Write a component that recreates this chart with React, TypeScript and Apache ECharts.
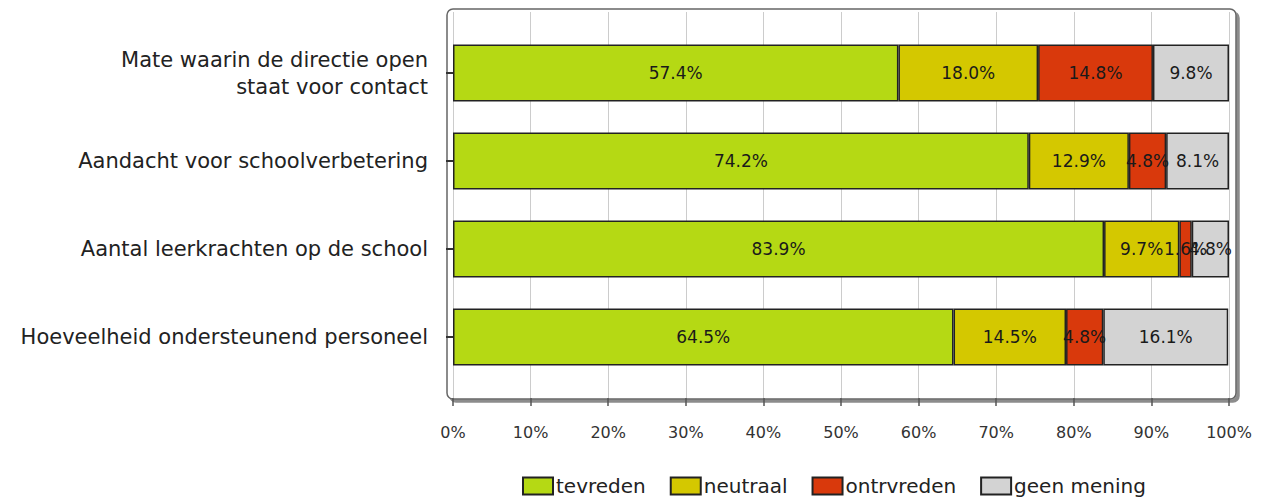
import React, { useEffect, useRef } from "react";
import * as echarts from "echarts";

const categories = [
  "Mate waarin de directie open\nstaat voor contact",
  "Aandacht voor schoolverbetering",
  "Aantal leerkrachten op de school",
  "Hoeveelheid ondersteunend personeel",
];
const seriesNames = ["tevreden", "neutraal", "ontrvreden", "geen mening"];
const tevreden = [57.4, 74.2, 83.9, 64.5];
const neutraal = [18.0, 12.9, 9.7, 14.5];
const ontrvreden = [14.8, 4.8, 1.6, 4.8];
const geenMening = [9.8, 8.1, 4.8, 16.1];
const colors = ["#b5d914", "#d4c800", "#d9390c", "#d3d3d3"];

const FONT = "DejaVu Sans";

export default function App() {
  const ref = useRef<HTMLDivElement>(null);
  useEffect(() => {
    if (!ref.current) return;
    const chart = echarts.init(ref.current, undefined, { renderer: "svg" });
    const values = [tevreden, neutraal, ontrvreden, geenMening];
    chart.setOption({
      animation: false,
      backgroundColor: "#ffffff",
      graphic: [
        {
          type: "rect",
          z: -10,
          silent: true,
          shape: { x: 447, y: 9, width: 789, height: 390, r: 6 },
          style: {
            fill: "#ffffff",
            stroke: "#666666",
            lineWidth: 1.5,
            shadowColor: "rgba(0,0,0,0.45)",
            shadowOffsetX: 3,
            shadowOffsetY: 3,
            shadowBlur: 1,
          },
        },
      ],
      grid: [
        { left: 453, right: 40, top: 12, bottom: 104, containLabel: false },
        { left: 453, right: 40, top: 29, height: 352, containLabel: false },
      ],
      xAxis: [
        {
          type: "value",
          gridIndex: 0,
          min: 0,
          max: 100,
          interval: 10,
          offset: 7,
          axisLine: { show: false },
          axisTick: { show: true, length: 8, lineStyle: { color: "#555", width: 1.5 } },
          axisLabel: {
            formatter: "{value}%",
            margin: 19,
            fontFamily: FONT,
            fontSize: 16,
            color: "#333",
          },
          splitLine: { show: true, lineStyle: { color: "#cccccc", width: 1 } },
        },
        {
          type: "value",
          gridIndex: 1,
          min: 0,
          max: 100,
          show: false,
        },
      ],
      yAxis: [
        { type: "value", gridIndex: 0, show: false },
        {
          type: "category",
          gridIndex: 1,
          data: categories,
          inverse: true,
          offset: 13,
          axisLine: { show: false },
          axisTick: {
            show: true,
            alignWithLabel: true,
            length: 7,
            lineStyle: { color: "#333", width: 2 },
          },
          axisLabel: {
            margin: 12,
            fontFamily: FONT,
            fontSize: 21,
            lineHeight: 27,
            color: "#222",
            align: "right",
          },
          splitLine: { show: false },
        },
      ],
      legend: {
        left: 522,
        top: 476,
        padding: 0,
        itemWidth: 30,
        itemHeight: 17,
        itemGap: 24,
        icon: "rect",
        textStyle: { fontFamily: FONT, fontSize: 20, color: "#222", padding: [0, 0, 0, -2] },
        data: seriesNames,
      },
      series: seriesNames.map((name, i) => ({
        name,
        type: "bar",
        stack: "total",
        xAxisIndex: 1,
        yAxisIndex: 1,
        barWidth: 57,
        data: values[i],
        itemStyle: { color: colors[i], borderColor: "#222", borderWidth: 1.5 },
        label: {
          show: true,
          position: "inside",
          formatter: (p: any) => `${Number(p.value).toFixed(1)}%`,
          fontFamily: FONT,
          fontSize: 17,
          color: "#1a1a1a",
        },
      })),
    });
    return () => chart.dispose();
  }, []);
  return (
    <div
      ref={ref}
      style={{ position: "fixed", left: 0, top: 0, width: 1269, height: 502 }}
    />
  );
}
